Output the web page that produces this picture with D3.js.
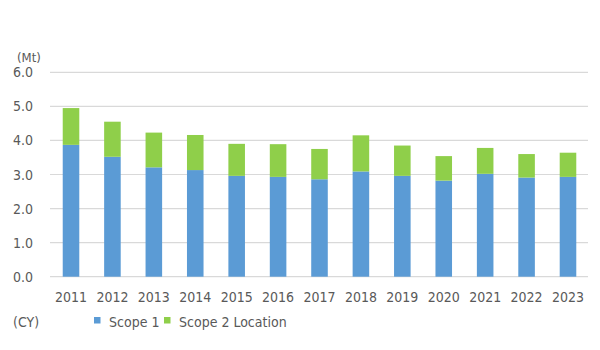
<!DOCTYPE html>
<html><head><meta charset="utf-8">
<script src="https://cdn.jsdelivr.net/npm/d3@7"></script>
<style>body{margin:0;background:#fff}svg{display:block}text{font-family:"DejaVu Sans Condensed","DejaVu Sans",sans-serif}</style>
</head><body><svg id="c" width="600" height="350"></svg>
<script>
const years = ["2011","2012","2013","2014","2015","2016","2017","2018","2019","2020","2021","2022","2023"];
const scope1 = [3.87,3.52,3.21,3.13,2.96,2.93,2.86,3.09,2.96,2.82,3.02,2.91,2.93];
const scope2 = [1.08,1.03,1.02,1.03,0.94,0.96,0.89,1.06,0.89,0.72,0.76,0.69,0.71];
const seriesNames = ["Scope 1","Scope 2 Location"];
const colors = ["#5b9bd5","#8fcf4a"];
const yTicks = [0,1,2,3,4,5,6];

const svg = d3.select("#c");
const x = d3.scaleBand().domain(years).range([50.3,588.7]).paddingInner(0.6).paddingOuter(0.3);
const y = d3.scaleLinear().domain([0,6]).range([276.7,72.3]);

// gridlines
svg.append("g").selectAll("line").data(yTicks).join("line")
  .attr("x1",50).attr("x2",588).attr("y1",d=>y(d)).attr("y2",d=>y(d))
  .attr("stroke","#d9d9d9").attr("stroke-width",1.2);

// y labels
svg.append("g").selectAll("text").data(yTicks).join("text")
  .attr("x",33).attr("y",d=>y(d)).attr("dy","0.36em").attr("text-anchor","end")
  .attr("font-size",14).attr("fill","#595959").text(d=>d.toFixed(1));

const rows = years.map((yr,i)=>({year:yr,s1:scope1[i],s2:scope2[i]}));
const stack = d3.stack().keys(["s1","s2"])(rows);
svg.append("g").selectAll("g").data(stack).join("g").attr("fill",(d,i)=>colors[i])
  .selectAll("rect").data(d=>d).join("rect")
  .attr("x",d=>x(d.data.year)).attr("width",x.bandwidth())
  .attr("y",d=>y(d[1])).attr("height",d=>y(d[0])-y(d[1]));

// x labels
svg.append("g").selectAll("text").data(years).join("text")
  .attr("x",d=>x(d)+x.bandwidth()/2).attr("y",302).attr("text-anchor","middle")
  .attr("font-size",14).attr("fill","#595959").text(d=>d);

svg.append("text").attr("x",17).attr("y",62).attr("font-size",13).attr("fill","#595959").text("(Mt)");
svg.append("text").attr("x",13).attr("y",327).attr("font-size",14).attr("fill","#595959").text("(CY)");

// legend
const lx = [94, 164];
seriesNames.forEach((n,i)=>{
  svg.append("rect").attr("x",lx[i]).attr("y",317).attr("width",6.5).attr("height",6.5).attr("fill",colors[i]);
  svg.append("text").attr("x",lx[i]+15).attr("y",327).attr("font-size",14).attr("fill","#595959").text(n);
});
</script></body></html>
